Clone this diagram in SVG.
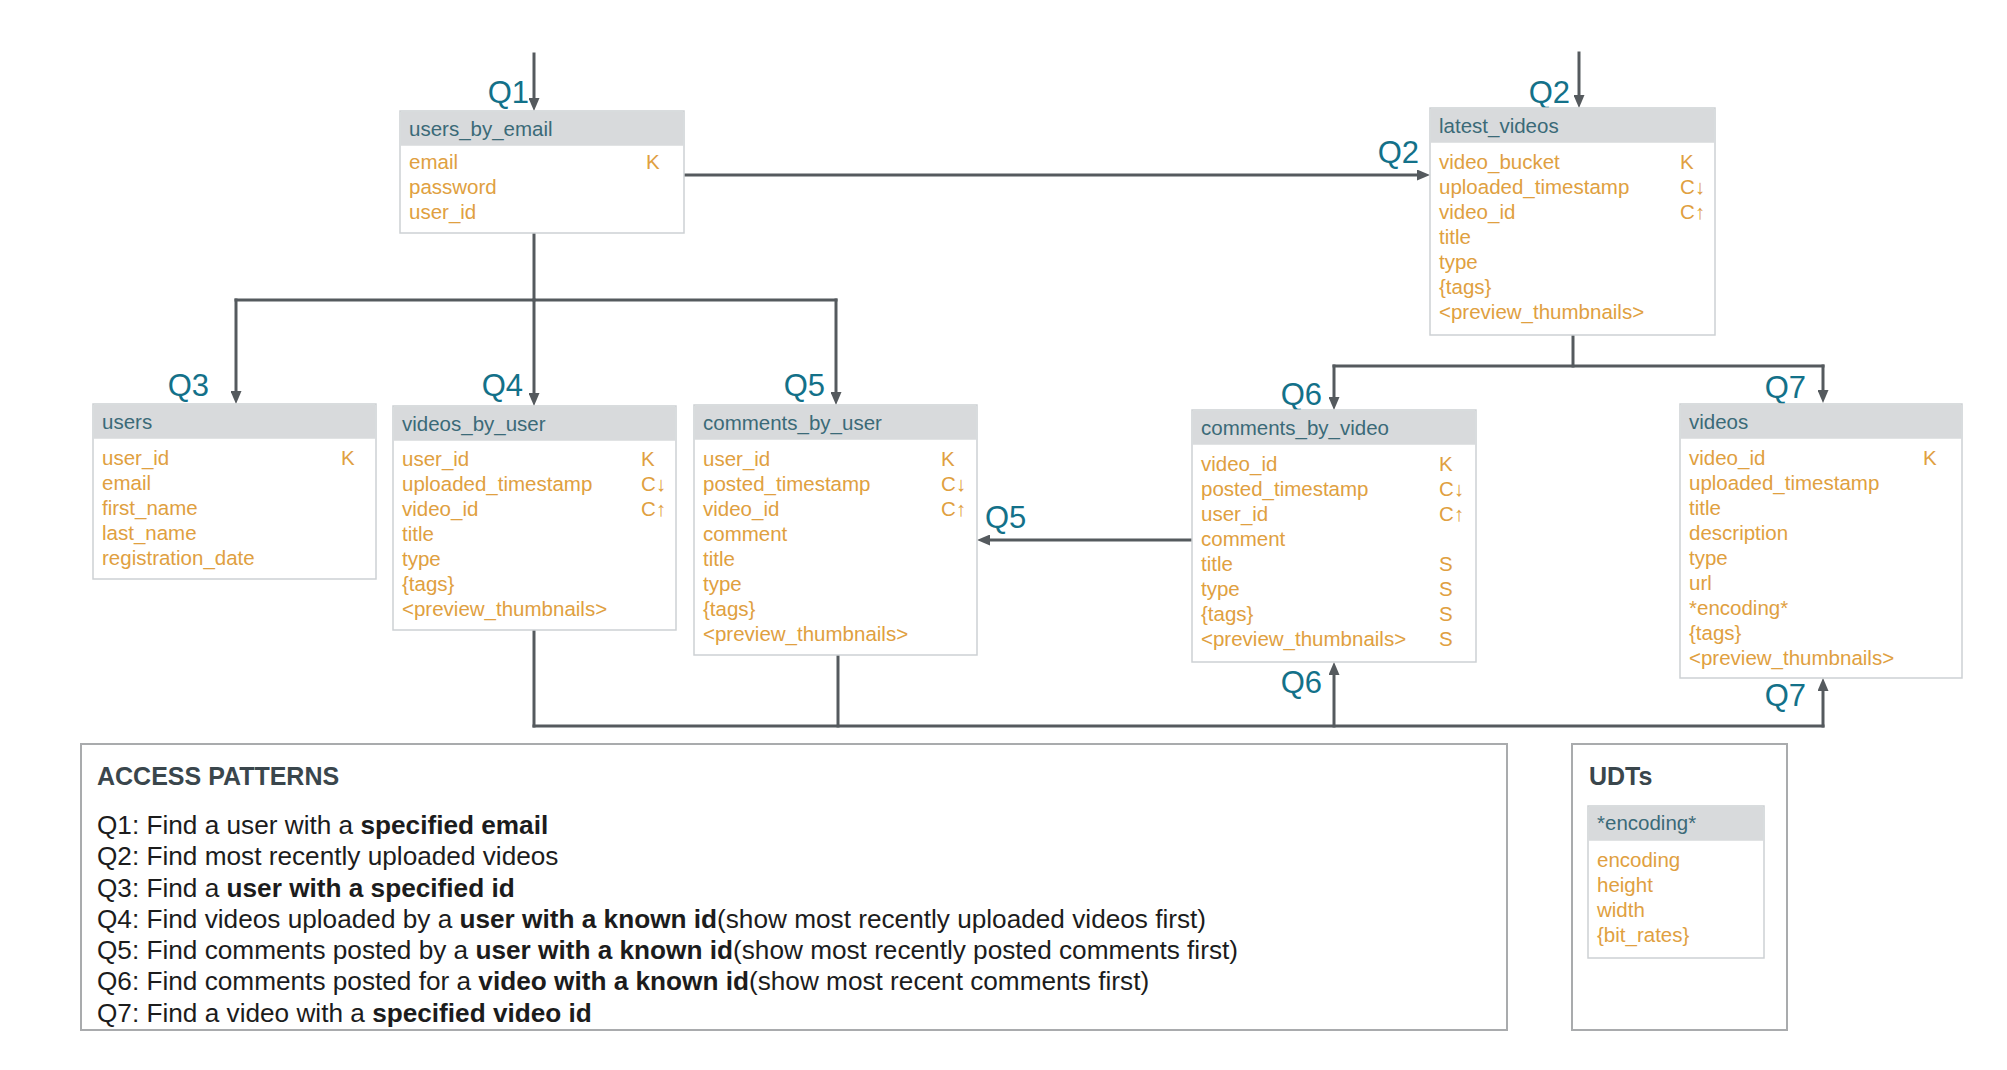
<svg xmlns="http://www.w3.org/2000/svg" width="2007" height="1070" viewBox="0 0 2007 1070">
<style>
  .box { fill: #ffffff; stroke: #cdd1d4; stroke-width: 1.5; }
  .hdr { fill: #d8dadc; }
  .htx { font-family: "Liberation Sans", Arial, sans-serif; font-size: 20.5px; fill: #3b6a78; }
  .fld { font-family: "Liberation Sans", Arial, sans-serif; font-size: 20.5px; fill: #e0a040; }
  .q { font-family: "Liberation Sans", Arial, sans-serif; font-size: 31px; fill: #137189; }
  .con { fill: none; stroke: #555a5e; stroke-width: 3; stroke-linecap: square; }
  .panel { fill: #ffffff; stroke: #a9abad; stroke-width: 2; }
  .ap { font-family: "Liberation Sans", Arial, sans-serif; font-size: 26.2px; fill: #1c1c1c; }
  .apt { font-family: "Liberation Sans", Arial, sans-serif; font-size: 25px; font-weight: bold; fill: #3a464c; }
  .b { font-weight: bold; }
</style>
<defs>
  <marker id="ah" viewBox="0 0 13 11" refX="4" refY="5.5" markerWidth="13" markerHeight="11" markerUnits="userSpaceOnUse" orient="auto">
    <path d="M0,0 L13,5.5 L0,11 z" fill="#555a5e"/>
  </marker>
</defs>
<rect width="2007" height="1070" fill="#ffffff"/>

<g id="connectors">
  <path class="con" d="M534,54 V102" marker-end="url(#ah)"/>
  <path class="con" d="M1579,53 V99" marker-end="url(#ah)"/>
  <path class="con" d="M684,175 H1421" marker-end="url(#ah)"/>
  <path class="con" d="M534,233 V300"/>
  <path class="con" d="M236,300 H836"/>
  <path class="con" d="M236,300 V395" marker-end="url(#ah)"/>
  <path class="con" d="M534,300 V397" marker-end="url(#ah)"/>
  <path class="con" d="M836,300 V396" marker-end="url(#ah)"/>
  <path class="con" d="M1573,335 V366"/>
  <path class="con" d="M1334,366 H1823"/>
  <path class="con" d="M1334,366 V401" marker-end="url(#ah)"/>
  <path class="con" d="M1823,366 V394" marker-end="url(#ah)"/>
  <path class="con" d="M1192,540 H986" marker-end="url(#ah)"/>
  <path class="con" d="M534,630 V726"/>
  <path class="con" d="M838,655 V726"/>
  <path class="con" d="M534,726 H1823"/>
  <path class="con" d="M1334,726 V671" marker-end="url(#ah)"/>
  <path class="con" d="M1823,726 V687" marker-end="url(#ah)"/>
</g>

<g id="labels">
  <text class="q" x="529" y="103" text-anchor="end">Q1</text>
  <text class="q" x="1570" y="103" text-anchor="end">Q2</text>
  <text class="q" x="1419" y="163" text-anchor="end">Q2</text>
  <text class="q" x="209" y="396" text-anchor="end">Q3</text>
  <text class="q" x="523" y="396" text-anchor="end">Q4</text>
  <text class="q" x="825" y="396" text-anchor="end">Q5</text>
  <text class="q" x="1322" y="405" text-anchor="end">Q6</text>
  <text class="q" x="1806" y="398" text-anchor="end">Q7</text>
  <text class="q" x="985" y="528">Q5</text>
  <text class="q" x="1322" y="693" text-anchor="end">Q6</text>
  <text class="q" x="1806" y="706" text-anchor="end">Q7</text>
</g>

<g id="users_by_email">
  <rect class="box" x="400" y="111" width="284" height="122"/>
  <rect class="hdr" x="400.75" y="111.75" width="282.5" height="34"/>
  <text class="htx" x="409" y="136">users_by_email</text>
  <text class="fld" x="409" y="169">email</text><text class="fld" x="646" y="169">K</text>
  <text class="fld" x="409" y="194">password</text>
  <text class="fld" x="409" y="219">user_id</text>
</g>

<g id="latest_videos">
  <rect class="box" x="1430" y="108" width="285" height="227"/>
  <rect class="hdr" x="1430.75" y="108.75" width="283.5" height="34"/>
  <text class="htx" x="1439" y="133">latest_videos</text>
  <text class="fld" x="1439" y="169">video_bucket</text><text class="fld" x="1680" y="169">K</text>
  <text class="fld" x="1439" y="194">uploaded_timestamp</text><text class="fld" x="1680" y="194">C↓</text>
  <text class="fld" x="1439" y="219">video_id</text><text class="fld" x="1680" y="219">C↑</text>
  <text class="fld" x="1439" y="244">title</text>
  <text class="fld" x="1439" y="269">type</text>
  <text class="fld" x="1439" y="294">{tags}</text>
  <text class="fld" x="1439" y="319">&lt;preview_thumbnails&gt;</text>
</g>

<g id="users">
  <rect class="box" x="93" y="404" width="283" height="175"/>
  <rect class="hdr" x="93.75" y="404.75" width="281.5" height="34"/>
  <text class="htx" x="102" y="429">users</text>
  <text class="fld" x="102" y="465">user_id</text><text class="fld" x="341" y="465">K</text>
  <text class="fld" x="102" y="490">email</text>
  <text class="fld" x="102" y="515">first_name</text>
  <text class="fld" x="102" y="540">last_name</text>
  <text class="fld" x="102" y="565">registration_date</text>
</g>

<g id="videos_by_user">
  <rect class="box" x="393" y="406" width="283" height="224"/>
  <rect class="hdr" x="393.75" y="406.75" width="281.5" height="34"/>
  <text class="htx" x="402" y="431">videos_by_user</text>
  <text class="fld" x="402" y="466">user_id</text><text class="fld" x="641" y="466">K</text>
  <text class="fld" x="402" y="491">uploaded_timestamp</text><text class="fld" x="641" y="491">C↓</text>
  <text class="fld" x="402" y="516">video_id</text><text class="fld" x="641" y="516">C↑</text>
  <text class="fld" x="402" y="541">title</text>
  <text class="fld" x="402" y="566">type</text>
  <text class="fld" x="402" y="591">{tags}</text>
  <text class="fld" x="402" y="616">&lt;preview_thumbnails&gt;</text>
</g>

<g id="comments_by_user">
  <rect class="box" x="694" y="405" width="283" height="250"/>
  <rect class="hdr" x="694.75" y="405.75" width="281.5" height="34"/>
  <text class="htx" x="703" y="430">comments_by_user</text>
  <text class="fld" x="703" y="466">user_id</text><text class="fld" x="941" y="466">K</text>
  <text class="fld" x="703" y="491">posted_timestamp</text><text class="fld" x="941" y="491">C↓</text>
  <text class="fld" x="703" y="516">video_id</text><text class="fld" x="941" y="516">C↑</text>
  <text class="fld" x="703" y="541">comment</text>
  <text class="fld" x="703" y="566">title</text>
  <text class="fld" x="703" y="591">type</text>
  <text class="fld" x="703" y="616">{tags}</text>
  <text class="fld" x="703" y="641">&lt;preview_thumbnails&gt;</text>
</g>

<g id="comments_by_video">
  <rect class="box" x="1192" y="410" width="284" height="252"/>
  <rect class="hdr" x="1192.75" y="410.75" width="282.5" height="34"/>
  <text class="htx" x="1201" y="435">comments_by_video</text>
  <text class="fld" x="1201" y="471">video_id</text><text class="fld" x="1439" y="471">K</text>
  <text class="fld" x="1201" y="496">posted_timestamp</text><text class="fld" x="1439" y="496">C↓</text>
  <text class="fld" x="1201" y="521">user_id</text><text class="fld" x="1439" y="521">C↑</text>
  <text class="fld" x="1201" y="546">comment</text>
  <text class="fld" x="1201" y="571">title</text><text class="fld" x="1439" y="571">S</text>
  <text class="fld" x="1201" y="596">type</text><text class="fld" x="1439" y="596">S</text>
  <text class="fld" x="1201" y="621">{tags}</text><text class="fld" x="1439" y="621">S</text>
  <text class="fld" x="1201" y="646">&lt;preview_thumbnails&gt;</text><text class="fld" x="1439" y="646">S</text>
</g>

<g id="videos">
  <rect class="box" x="1680" y="404" width="282" height="274"/>
  <rect class="hdr" x="1680.75" y="404.75" width="280.5" height="34"/>
  <text class="htx" x="1689" y="429">videos</text>
  <text class="fld" x="1689" y="465">video_id</text><text class="fld" x="1923" y="465">K</text>
  <text class="fld" x="1689" y="490">uploaded_timestamp</text>
  <text class="fld" x="1689" y="515">title</text>
  <text class="fld" x="1689" y="540">description</text>
  <text class="fld" x="1689" y="565">type</text>
  <text class="fld" x="1689" y="590">url</text>
  <text class="fld" x="1689" y="615">*encoding*</text>
  <text class="fld" x="1689" y="640">{tags}</text>
  <text class="fld" x="1689" y="665">&lt;preview_thumbnails&gt;</text>
</g>

<g id="access_patterns">
  <rect class="panel" x="81" y="744" width="1426" height="286"/>
  <text class="apt" x="97" y="785">ACCESS PATTERNS</text>
  <text class="ap" x="97" y="834">Q1: Find a user with a <tspan class="b">specified email</tspan></text>
  <text class="ap" x="97" y="865">Q2: Find most recently uploaded videos</text>
  <text class="ap" x="97" y="897">Q3: Find a <tspan class="b">user with a specified id</tspan></text>
  <text class="ap" x="97" y="928">Q4: Find videos uploaded by a <tspan class="b">user with a known id</tspan>(show most recently uploaded videos first)</text>
  <text class="ap" x="97" y="959">Q5: Find comments posted by a <tspan class="b">user with a known id</tspan>(show most recently posted comments first)</text>
  <text class="ap" x="97" y="990">Q6: Find comments posted for a <tspan class="b">video with a known id</tspan>(show most recent comments first)</text>
  <text class="ap" x="97" y="1022">Q7: Find a video with a <tspan class="b">specified video id</tspan></text>
</g>

<g id="udts">
  <rect class="panel" x="1572" y="744" width="215" height="286"/>
  <text class="apt" x="1589" y="785">UDTs</text>
  <g id="encoding">
    <rect class="box" x="1588" y="806" width="176" height="152"/>
    <rect class="hdr" x="1588.75" y="806.75" width="174.5" height="34"/>
    <text class="htx" x="1597" y="830">*encoding*</text>
    <text class="fld" x="1597" y="867">encoding</text>
    <text class="fld" x="1597" y="892">height</text>
    <text class="fld" x="1597" y="917">width</text>
    <text class="fld" x="1597" y="942">{bit_rates}</text>
  </g>
</g>
</svg>
